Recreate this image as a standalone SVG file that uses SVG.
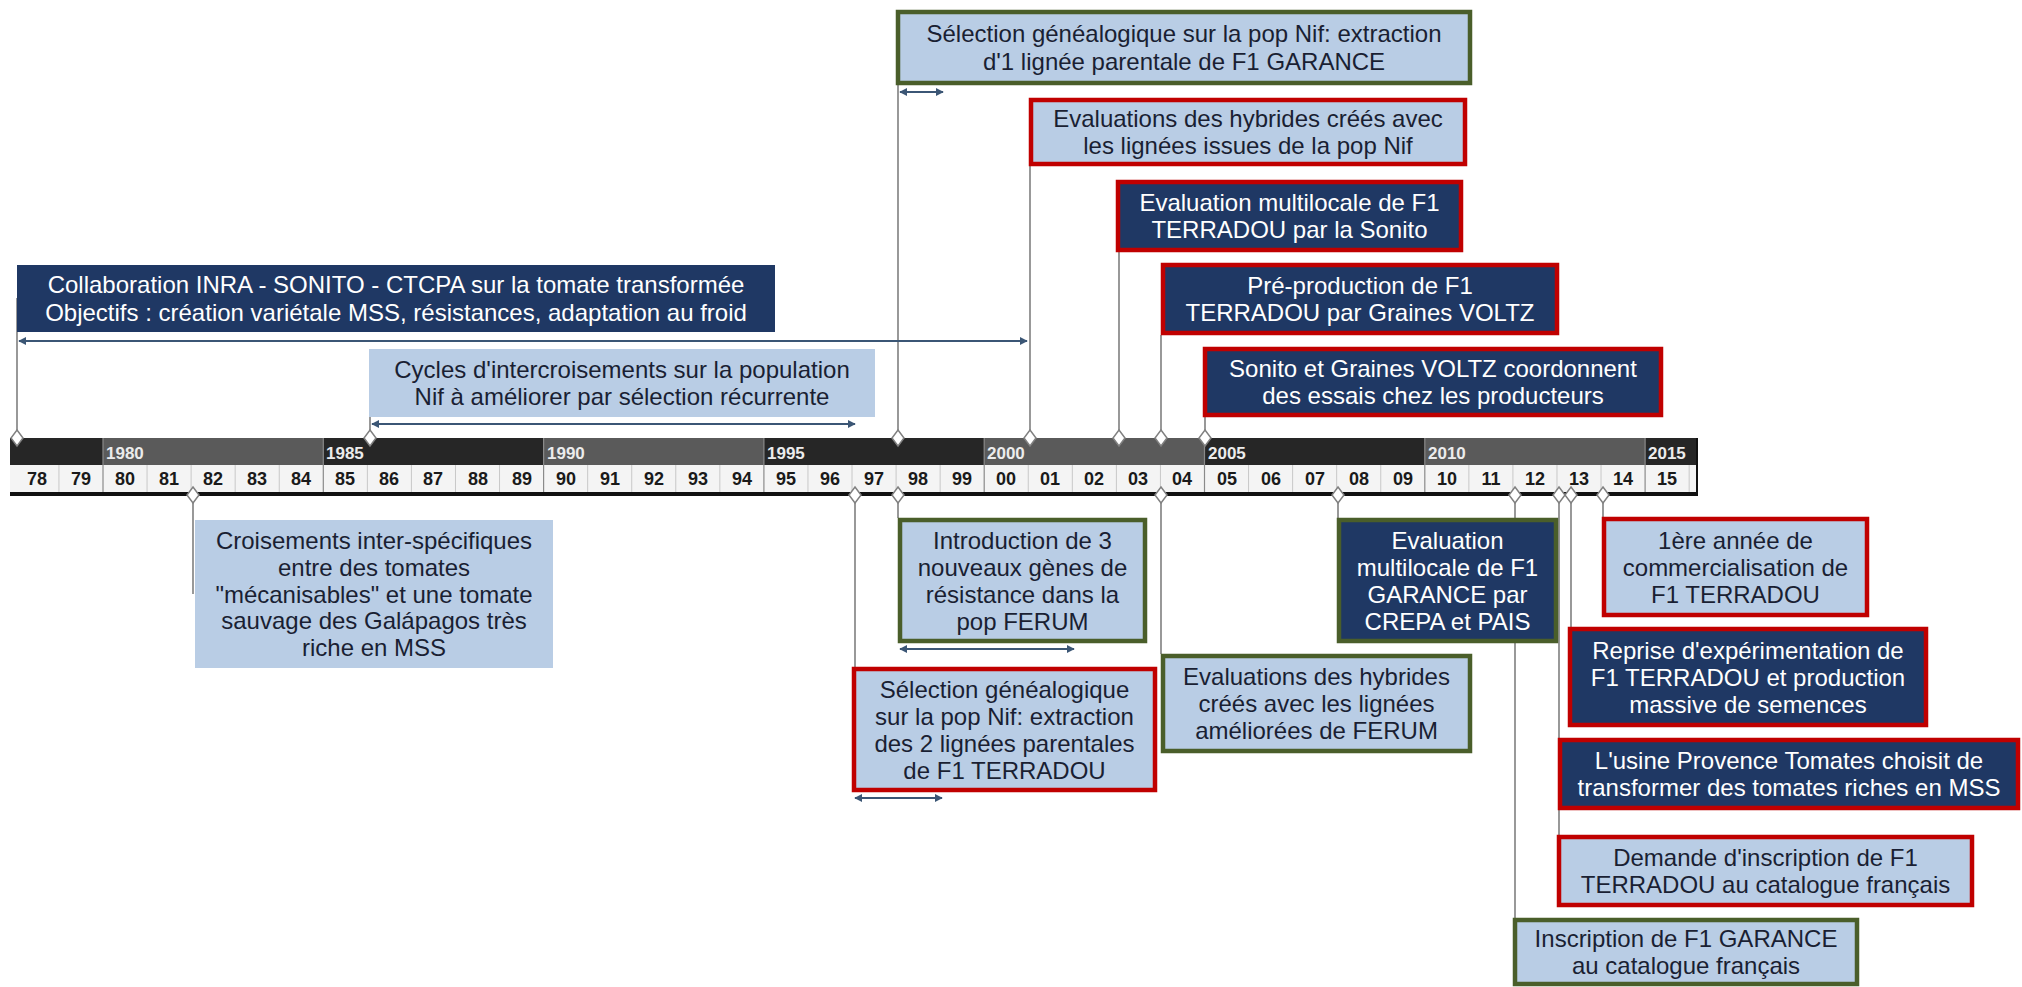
<svg xmlns="http://www.w3.org/2000/svg" width="2022" height="987" viewBox="0 0 2022 987">
<defs>
<style>
.t{font-family:"Liberation Sans",Arial,sans-serif;font-size:24px;text-anchor:middle}
.dk{fill:#1a1f33}
.wt{fill:#ffffff}
.lb{fill:#b9cde5}
.nv{fill:#1f3864}
.rb{stroke:#c00000;stroke-width:4.5}
.gb{stroke:#4a5e2a;stroke-width:4.5}
.conn{stroke:#7f7f7f;stroke-width:1.6;fill:none}
.span{stroke:#3b5675;stroke-width:2;fill:none;marker-start:url(#ah);marker-end:url(#ah)}
.dia{fill:#ffffff;stroke:#808080;stroke-width:1.5}
.yr{font-family:"Liberation Sans",Arial,sans-serif;font-size:18px;font-weight:bold;fill:#1a1a1a;text-anchor:middle}
.blk{font-family:"Liberation Sans",Arial,sans-serif;font-size:17px;font-weight:bold;fill:#ececec}
.sep{stroke:#c8c8c8;stroke-width:1}
.sep5{stroke:#8a8a8a;stroke-width:1.2}
</style>
<marker id="ah" viewBox="0 0 10 10" refX="9" refY="5" markerWidth="4" markerHeight="4" orient="auto-start-reverse">
<path d="M0,0 L10,5 L0,10 z" fill="#3b5675"/>
</marker>
</defs>
<rect width="2022" height="987" fill="#ffffff"/>

<!-- Timeline bar -->
<g id="timeline">
<rect x="10" y="438" width="1687" height="27" fill="#262626"/>
<rect x="103" y="438" width="220.3" height="27" fill="#5a5a5a"/>
<rect x="543.6" y="438" width="220.3" height="27" fill="#5a5a5a"/>
<rect x="984.2" y="438" width="220.3" height="27" fill="#5a5a5a"/>
<rect x="1424.8" y="438" width="220.3" height="27" fill="#5a5a5a"/>
<rect x="10" y="465" width="1687" height="27" fill="#f4f4f4"/>
<rect x="10" y="492" width="1687" height="4" fill="#111111"/>
<line x1="1697" y1="438" x2="1697" y2="496" stroke="#111" stroke-width="2"/>
<g class="sep">
<line x1="58.94" y1="465" x2="58.94" y2="492"/>
<line x1="147.06" y1="465" x2="147.06" y2="492"/>
<line x1="191.12" y1="465" x2="191.12" y2="492"/>
<line x1="235.18" y1="465" x2="235.18" y2="492"/>
<line x1="279.24" y1="465" x2="279.24" y2="492"/>
<line x1="367.36" y1="465" x2="367.36" y2="492"/>
<line x1="411.42" y1="465" x2="411.42" y2="492"/>
<line x1="455.48" y1="465" x2="455.48" y2="492"/>
<line x1="499.54" y1="465" x2="499.54" y2="492"/>
<line x1="587.66" y1="465" x2="587.66" y2="492"/>
<line x1="631.72" y1="465" x2="631.72" y2="492"/>
<line x1="675.78" y1="465" x2="675.78" y2="492"/>
<line x1="719.84" y1="465" x2="719.84" y2="492"/>
<line x1="807.96" y1="465" x2="807.96" y2="492"/>
<line x1="852.02" y1="465" x2="852.02" y2="492"/>
<line x1="896.08" y1="465" x2="896.08" y2="492"/>
<line x1="940.14" y1="465" x2="940.14" y2="492"/>
<line x1="1028.26" y1="465" x2="1028.26" y2="492"/>
<line x1="1072.32" y1="465" x2="1072.32" y2="492"/>
<line x1="1116.38" y1="465" x2="1116.38" y2="492"/>
<line x1="1160.44" y1="465" x2="1160.44" y2="492"/>
<line x1="1248.56" y1="465" x2="1248.56" y2="492"/>
<line x1="1292.62" y1="465" x2="1292.62" y2="492"/>
<line x1="1336.68" y1="465" x2="1336.68" y2="492"/>
<line x1="1380.74" y1="465" x2="1380.74" y2="492"/>
<line x1="1468.86" y1="465" x2="1468.86" y2="492"/>
<line x1="1512.92" y1="465" x2="1512.92" y2="492"/>
<line x1="1556.98" y1="465" x2="1556.98" y2="492"/>
<line x1="1601.04" y1="465" x2="1601.04" y2="492"/>
<line x1="1689.16" y1="465" x2="1689.16" y2="492"/>
</g>
<g class="sep5">
<line x1="103" y1="438" x2="103" y2="492"/>
<line x1="323.3" y1="438" x2="323.3" y2="492"/>
<line x1="543.6" y1="438" x2="543.6" y2="492"/>
<line x1="763.9" y1="438" x2="763.9" y2="492"/>
<line x1="984.2" y1="438" x2="984.2" y2="492"/>
<line x1="1204.5" y1="438" x2="1204.5" y2="492"/>
<line x1="1424.8" y1="438" x2="1424.8" y2="492"/>
<line x1="1645.1" y1="438" x2="1645.1" y2="492"/>
</g>
<text class="blk" x="106" y="459">1980</text>
<text class="blk" x="326" y="459">1985</text>
<text class="blk" x="547" y="459">1990</text>
<text class="blk" x="767" y="459">1995</text>
<text class="blk" x="987" y="459">2000</text>
<text class="blk" x="1208" y="459">2005</text>
<text class="blk" x="1428" y="459">2010</text>
<text class="blk" x="1648" y="459">2015</text>
<text class="yr" x="37" y="485">78</text>
<text class="yr" x="81" y="485">79</text>
<text class="yr" x="125" y="485">80</text>
<text class="yr" x="169" y="485">81</text>
<text class="yr" x="213" y="485">82</text>
<text class="yr" x="257" y="485">83</text>
<text class="yr" x="301" y="485">84</text>
<text class="yr" x="345" y="485">85</text>
<text class="yr" x="389" y="485">86</text>
<text class="yr" x="433" y="485">87</text>
<text class="yr" x="478" y="485">88</text>
<text class="yr" x="522" y="485">89</text>
<text class="yr" x="566" y="485">90</text>
<text class="yr" x="610" y="485">91</text>
<text class="yr" x="654" y="485">92</text>
<text class="yr" x="698" y="485">93</text>
<text class="yr" x="742" y="485">94</text>
<text class="yr" x="786" y="485">95</text>
<text class="yr" x="830" y="485">96</text>
<text class="yr" x="874" y="485">97</text>
<text class="yr" x="918" y="485">98</text>
<text class="yr" x="962" y="485">99</text>
<text class="yr" x="1006" y="485">00</text>
<text class="yr" x="1050" y="485">01</text>
<text class="yr" x="1094" y="485">02</text>
<text class="yr" x="1138" y="485">03</text>
<text class="yr" x="1182" y="485">04</text>
<text class="yr" x="1227" y="485">05</text>
<text class="yr" x="1271" y="485">06</text>
<text class="yr" x="1315" y="485">07</text>
<text class="yr" x="1359" y="485">08</text>
<text class="yr" x="1403" y="485">09</text>
<text class="yr" x="1447" y="485">10</text>
<text class="yr" x="1491" y="485">11</text>
<text class="yr" x="1535" y="485">12</text>
<text class="yr" x="1579" y="485">13</text>
<text class="yr" x="1623" y="485">14</text>
<text class="yr" x="1667" y="485">15</text>
</g>

<!-- Connectors -->
<g id="connectors">
<path class="conn" d="M17,438 V298"/>
<path class="conn" d="M370,438 V383"/>
<path class="conn" d="M898,438 V85"/>
<path class="conn" d="M1030,438 V166"/>
<path class="conn" d="M1119,438 V252"/>
<path class="conn" d="M1161,438 V335"/>
<path class="conn" d="M1205,438 V417"/>
<path class="conn" d="M193,496 V594"/>
<path class="conn" d="M855,496 V667"/>
<path class="conn" d="M898,496 V518"/>
<path class="conn" d="M1161,496 V654"/>
<path class="conn" d="M1338,496 V518"/>
<path class="conn" d="M1515,496 V918"/>
<path class="conn" d="M1559,496 V835"/>
<path class="conn" d="M1571,496 V627"/>
<path class="conn" d="M1603,496 V517"/>
<path class="span" d="M19,341 H1027"/>
<path class="span" d="M372,424 H855"/>
<path class="span" d="M900,92 H943"/>
<path class="span" d="M900,649 H1074"/>
<path class="span" d="M855,798 H942"/>
</g>

<!-- Diamonds -->
<g id="markers">
<path class="dia" d="M17,430 L23,438 L17,446 L11,438 Z"/>
<path class="dia" d="M370,430 L376,438 L370,446 L364,438 Z"/>
<path class="dia" d="M898,430 L904,438 L898,446 L892,438 Z"/>
<path class="dia" d="M1030,430 L1036,438 L1030,446 L1024,438 Z"/>
<path class="dia" d="M1119,430 L1125,438 L1119,446 L1113,438 Z"/>
<path class="dia" d="M1161,430 L1167,438 L1161,446 L1155,438 Z"/>
<path class="dia" d="M1205,430 L1211,438 L1205,446 L1199,438 Z"/>
<path class="dia" d="M193,487 L199,495 L193,503 L187,495 Z"/>
<path class="dia" d="M855,487 L861,495 L855,503 L849,495 Z"/>
<path class="dia" d="M898,487 L904,495 L898,503 L892,495 Z"/>
<path class="dia" d="M1161,487 L1167,495 L1161,503 L1155,495 Z"/>
<path class="dia" d="M1338,487 L1344,495 L1338,503 L1332,495 Z"/>
<path class="dia" d="M1515,487 L1521,495 L1515,503 L1509,495 Z"/>
<path class="dia" d="M1559,487 L1565,495 L1559,503 L1553,495 Z"/>
<path class="dia" d="M1571,487 L1577,495 L1571,503 L1565,495 Z"/>
<path class="dia" d="M1603,487 L1609,495 L1603,503 L1597,495 Z"/>
</g>

<!-- Top nodes -->
<g id="nodeA">
<rect class="lb gb" x="898" y="12" width="572" height="71"/>
<text class="t dk" x="1184" y="42">Sélection généalogique sur la pop Nif: extraction<tspan x="1184" y="70">d'1 lignée parentale de F1 GARANCE</tspan></text>
</g>
<g id="nodeB">
<rect class="lb rb" x="1031" y="100" width="434" height="64"/>
<text class="t dk" x="1248" y="127">Evaluations des hybrides créés avec<tspan x="1248" y="154">les lignées issues de la pop Nif</tspan></text>
</g>
<g id="nodeC">
<rect class="nv rb" x="1118" y="182" width="343" height="68"/>
<text class="t wt" x="1289.5" y="211">Evaluation multilocale de F1<tspan x="1289.5" y="238">TERRADOU par la Sonito</tspan></text>
</g>
<g id="nodeD">
<rect class="nv rb" x="1163" y="265" width="394" height="68"/>
<text class="t wt" x="1360" y="294">Pré-production de F1<tspan x="1360" y="321">TERRADOU par Graines VOLTZ</tspan></text>
</g>
<g id="nodeE">
<rect class="nv rb" x="1205" y="349" width="456" height="66"/>
<text class="t wt" x="1433" y="377">Sonito et Graines VOLTZ coordonnent<tspan x="1433" y="404">des essais chez les producteurs</tspan></text>
</g>
<g id="nodeF">
<rect class="nv" x="17" y="265" width="758" height="67"/>
<text class="t wt" x="396" y="293">Collaboration INRA - SONITO - CTCPA sur la tomate transformée<tspan x="396" y="321">Objectifs : création variétale MSS, résistances, adaptation au froid</tspan></text>
</g>
<g id="nodeG">
<rect class="lb" x="369" y="349" width="506" height="68"/>
<text class="t dk" x="622" y="378">Cycles d'intercroisements sur la population<tspan x="622" y="405">Nif à améliorer par sélection récurrente</tspan></text>
</g>

<!-- Bottom nodes -->
<g id="nodeH">
<rect class="lb" x="195" y="520" width="358" height="148"/>
<text class="t dk" x="374" y="549">Croisements inter-spécifiques<tspan x="374" y="576">entre des tomates</tspan><tspan x="374" y="602.5">"mécanisables" et une tomate</tspan><tspan x="374" y="629">sauvage des Galápagos très</tspan><tspan x="374" y="656">riche en MSS</tspan></text>
</g>
<g id="nodeI">
<rect class="lb gb" x="900" y="520" width="245" height="121"/>
<text class="t dk" x="1022.5" y="548.5">Introduction de 3<tspan x="1022.5" y="575.5">nouveaux gènes de</tspan><tspan x="1022.5" y="602.5">résistance dans la</tspan><tspan x="1022.5" y="629.5">pop FERUM</tspan></text>
</g>
<g id="nodeJ">
<rect class="lb rb" x="854" y="669" width="301" height="121"/>
<text class="t dk" x="1004.5" y="697.5">Sélection généalogique<tspan x="1004.5" y="724.5">sur la pop Nif: extraction</tspan><tspan x="1004.5" y="751.5">des 2 lignées parentales</tspan><tspan x="1004.5" y="778.5">de F1 TERRADOU</tspan></text>
</g>
<g id="nodeK">
<rect class="lb gb" x="1163" y="656" width="307" height="95"/>
<text class="t dk" x="1316.5" y="685">Evaluations des hybrides<tspan x="1316.5" y="712">créés avec les lignées</tspan><tspan x="1316.5" y="739">améliorées de FERUM</tspan></text>
</g>
<g id="nodeL">
<rect class="nv gb" x="1339" y="520" width="217" height="121"/>
<text class="t wt" x="1447.5" y="548.5">Evaluation<tspan x="1447.5" y="575.5">multilocale de F1</tspan><tspan x="1447.5" y="602.5">GARANCE par</tspan><tspan x="1447.5" y="629.5">CREPA et PAIS</tspan></text>
</g>
<g id="nodeM">
<rect class="lb rb" x="1604" y="519" width="263" height="96"/>
<text class="t dk" x="1735.5" y="548.5">1ère année de<tspan x="1735.5" y="575.5">commercialisation de</tspan><tspan x="1735.5" y="602.5">F1 TERRADOU</tspan></text>
</g>
<g id="nodeN">
<rect class="nv rb" x="1570" y="629" width="356" height="96"/>
<text class="t wt" x="1748" y="658.5">Reprise d'expérimentation de<tspan x="1748" y="685.5">F1 TERRADOU et production</tspan><tspan x="1748" y="712.5">massive de semences</tspan></text>
</g>
<g id="nodeO">
<rect class="nv rb" x="1560" y="740" width="458" height="68"/>
<text class="t wt" x="1789" y="769">L'usine Provence Tomates choisit de<tspan x="1789" y="796">transformer des tomates riches en MSS</tspan></text>
</g>
<g id="nodeP">
<rect class="lb rb" x="1559" y="837" width="413" height="68"/>
<text class="t dk" x="1765.5" y="866">Demande d'inscription de F1<tspan x="1765.5" y="893">TERRADOU au catalogue français</tspan></text>
</g>
<g id="nodeQ">
<rect class="lb gb" x="1515" y="920" width="342" height="64"/>
<text class="t dk" x="1686" y="947">Inscription de F1 GARANCE<tspan x="1686" y="974">au catalogue français</tspan></text>
</g>
</svg>
